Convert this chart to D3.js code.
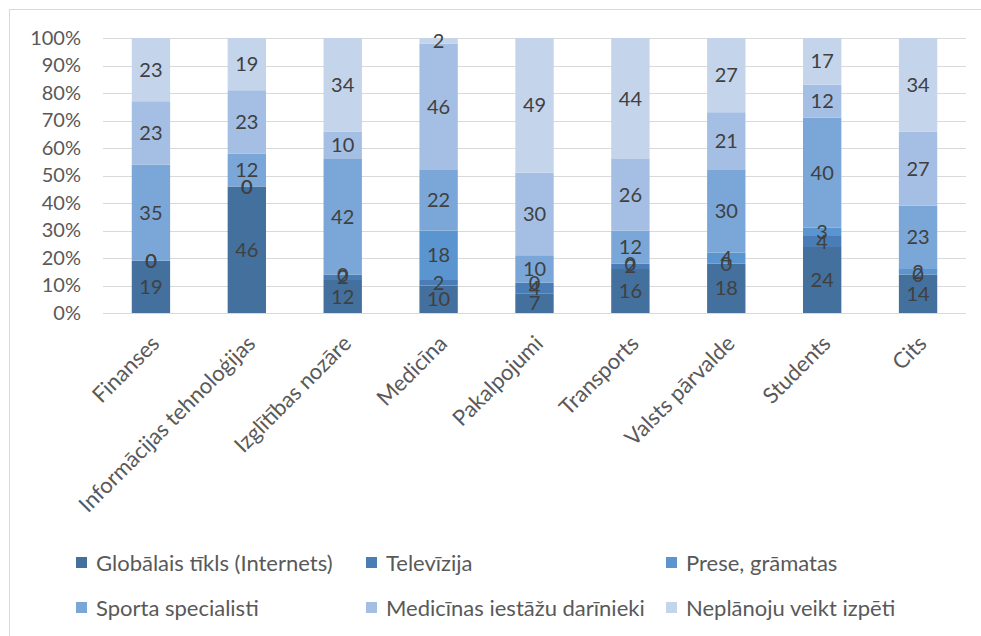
<!DOCTYPE html>
<html>
<head>
<meta charset="utf-8">
<script src="https://cdn.jsdelivr.net/npm/d3@7"></script>
<style>
  html, body { margin: 0; padding: 0; background: #fff; }
  svg { display: block; font-family: Lato, "Open Sans", sans-serif; }
</style>
</head>
<body>
<svg id="chart" width="981" height="636"></svg>
<script>
// Sectors surveyed
const categories = ["Finanses", "Informācijas tehnoloģijas", "Izglītības nozāre", "Medicīna",
  "Pakalpojumi", "Transports", "Valsts pārvalde", "Students", "Cits"];

// Information sources (stack order, bottom to top)
const seriesNames = ["Globālais tīkls (Internets)", "Televīzija", "Prese, grāmatas",
  "Sporta specialisti", "Medicīnas iestāžu darīnieki", "Neplānoju veikt izpēti"];

// Percent share per sector, one array per source
const internets   = [19, 46, 12, 10, 7, 16, 18, 24, 14];
const televizija  = [0, 0, 2, 2, 4, 2, 0, 4, 0];
const prese       = [0, 0, 0, 18, 0, 0, 4, 3, 2];
const sports      = [35, 12, 42, 22, 10, 12, 30, 40, 23];
const medicina    = [23, 23, 10, 46, 30, 26, 21, 12, 27];
const neplanoju   = [23, 19, 34, 2, 49, 44, 27, 17, 34];

const seriesValues = [internets, televizija, prese, sports, medicina, neplanoju];
const colors = ["#43709c", "#4a7db5", "#5a95cf", "#7aa7d8", "#a4bfe3", "#c4d4eb"];

const yTicks = [0, 10, 20, 30, 40, 50, 60, 70, 80, 90, 100];

const svg = d3.select("#chart");

// outer frame (only top/left edges fall inside the canvas)
svg.append("rect")
  .attr("x", 9.5).attr("y", 9.5)
  .attr("width", 1100).attr("height", 1100)
  .attr("fill", "none").attr("stroke", "#d9d9d9");

const x = d3.scaleBand().domain(categories).range([103, 966])
  .paddingInner(0.6).paddingOuter(0.3);
const y = d3.scaleLinear().domain([0, 100]).range([313, 38]);

// horizontal gridlines
svg.append("g").selectAll("line").data(yTicks).join("line")
  .attr("x1", 103).attr("x2", 966)
  .attr("y1", d => Math.round(y(d)) + 0.5).attr("y2", d => Math.round(y(d)) + 0.5)
  .attr("stroke", "#d9d9d9").attr("stroke-width", 1);

// y axis labels
const yAxis = d3.axisLeft(y).tickValues(yTicks).tickSize(0).tickPadding(0)
  .tickFormat(d => d + "%");
svg.append("g").attr("transform", "translate(81,0)").call(yAxis)
  .call(g => g.select(".domain").remove())
  .call(g => g.selectAll("text")
    .attr("font-family", "Lato, sans-serif")
    .attr("font-size", 20).attr("fill", "#595959"));

// build stacked table
const table = categories.map((c, i) => {
  const row = { category: c };
  seriesNames.forEach((s, k) => { row[s] = seriesValues[k][i]; });
  return row;
});
const stacked = d3.stack().keys(seriesNames)(table);

const layers = svg.append("g").selectAll("g").data(stacked).join("g")
  .attr("fill", (d, i) => colors[i]);

layers.selectAll("rect").data(d => d).join("rect")
  .attr("x", d => x(d.data.category))
  .attr("width", x.bandwidth())
  .attr("y", d => y(d[1]))
  .attr("height", d => y(d[0]) - y(d[1]));

// value labels centred on each segment
const labels = svg.append("g");
stacked.forEach(layer => {
  layer.forEach(d => {
    labels.append("text")
      .attr("x", x(d.data.category) + x.bandwidth() / 2)
      .attr("y", y((d[0] + d[1]) / 2))
      .attr("dy", "0.35em")
      .attr("text-anchor", "middle")
      .attr("font-size", 20)
      .attr("fill", "#404040")
      .text(d[1] - d[0]);
  });
});

// rotated category labels
const xAxis = d3.axisBottom(x).tickSize(0).tickPadding(0);
svg.append("g").attr("transform", "translate(0,313)").call(xAxis)
  .call(g => g.select(".domain").remove())
  .call(g => g.selectAll("text")
    .attr("font-family", "Lato, sans-serif")
    .attr("font-size", 22).attr("fill", "#595959")
    .attr("text-anchor", "end")
    .attr("dy", "0.7em")
    .attr("transform", "translate(-1,21) rotate(-45)"));

// legend
const legendCols = [76, 366, 666];
const legendRows = [563, 608];
const legend = svg.append("g");
seriesNames.forEach((name, i) => {
  const lx = legendCols[i % 3];
  const ly = legendRows[Math.floor(i / 3)];
  legend.append("rect")
    .attr("x", lx).attr("y", ly - 6)
    .attr("width", 11).attr("height", 11)
    .attr("fill", colors[i]);
  legend.append("text")
    .attr("x", lx + 20).attr("y", ly)
    .attr("dy", "0.35em")
    .attr("font-size", 22)
    .attr("fill", "#595959")
    .text(name);
});
</script>
</body>
</html>
